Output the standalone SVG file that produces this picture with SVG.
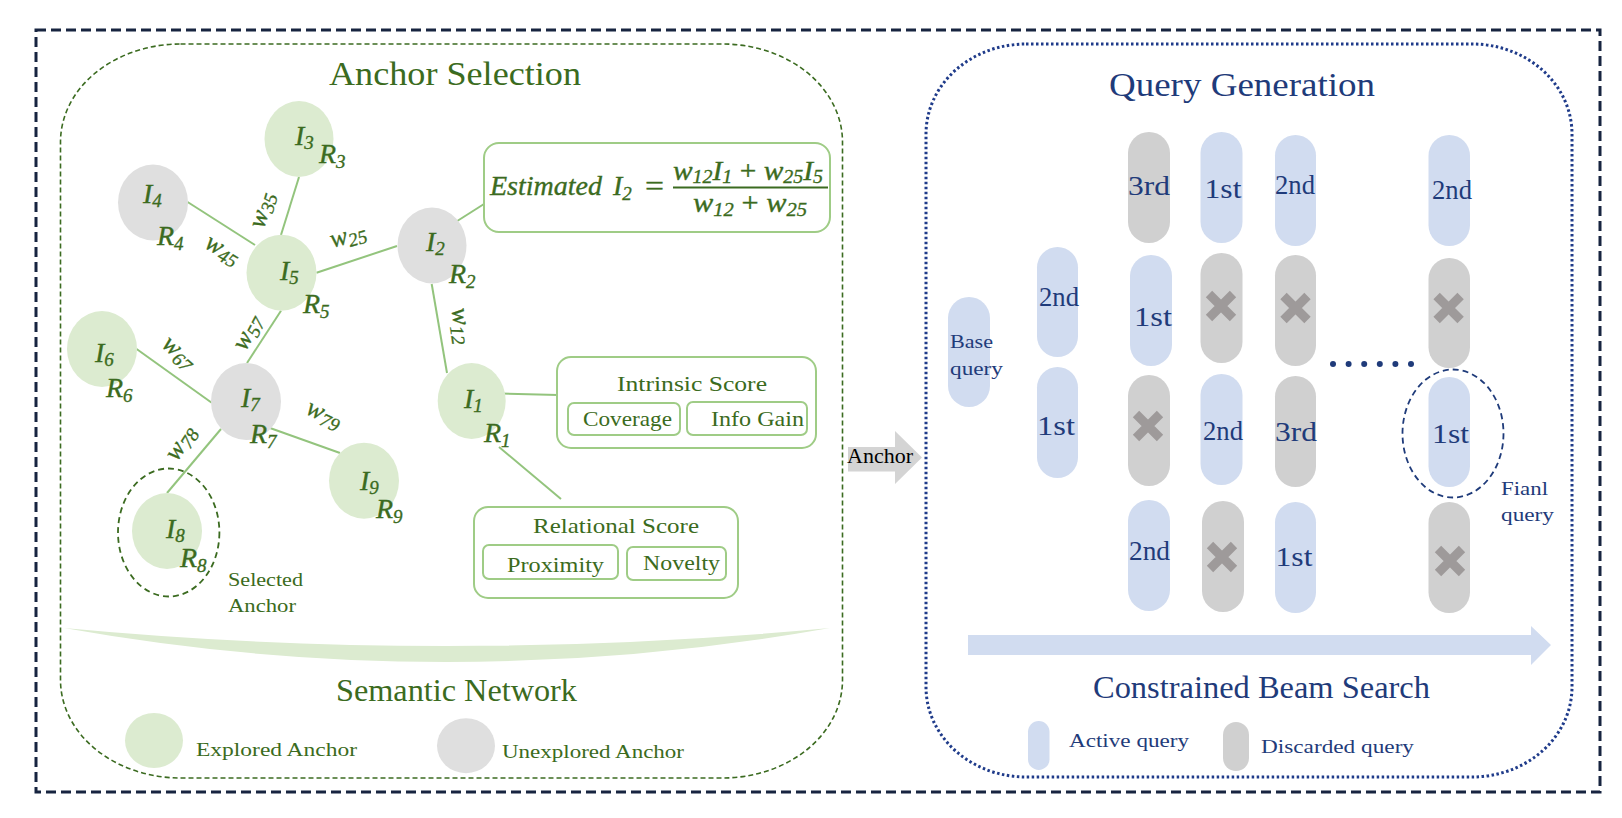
<svg xmlns="http://www.w3.org/2000/svg" width="1622" height="818" viewBox="0 0 1622 818">
<defs>
<style>
.serif{font-family:"Liberation Serif","Times New Roman",serif}
.g{fill:#3b6b20}
.nv{fill:#1f3b7a}
.m{font-family:"Liberation Serif","Times New Roman",serif;font-style:italic;font-size:28px;fill:#3b6b20;stroke:#3b6b20;stroke-width:0.35}
.ms{font-size:19px}
.w{font-family:"Liberation Serif","Times New Roman",serif;font-style:italic;font-size:26px;fill:#3b6b20;stroke:#3b6b20;stroke-width:0.3}
.en{fill:#dcebd0}
.un{fill:#dfdfdf}
.edge{stroke:#93c47d;stroke-width:2;fill:none}
.box{fill:#fff;stroke:#9fcc86;stroke-width:2}
.lab{font-family:"Liberation Serif","Times New Roman",serif;font-size:22px;fill:#3b6b20}
.act{fill:#d1dcf0}
.dis{fill:#d0d0d0}
.pt{font-family:"Liberation Serif","Times New Roman",serif;font-size:27px;fill:#1f3b7a;text-anchor:middle}
.xm{stroke:#9e9a9a;stroke-width:9;fill:none}
.f{font-family:"Liberation Serif","Times New Roman",serif;font-style:italic;font-size:28px;fill:#3b6b20;stroke:#3b6b20;stroke-width:0.35}
</style>
<g id="xmark"><path class="xm" d="M-12,-12 L12,12 M12,-12 L-12,12"/></g>
</defs>
<rect width="1622" height="818" fill="#fff"/>
<!-- outer frame -->
<rect x="36" y="30" width="1564" height="762" fill="none" stroke="#172440" stroke-width="3" stroke-dasharray="10 5"/>
<!-- panels -->
<rect x="60.5" y="44" width="782" height="734" rx="120" ry="98" fill="none" stroke="#3b6b20" stroke-width="1.6" stroke-dasharray="5 3"/>
<rect x="926" y="44" width="646" height="733" rx="100" ry="90" fill="none" stroke="#1f3b8a" stroke-width="3" stroke-dasharray="2.5 2.5"/>

<text class="serif g" x="329" y="85" font-size="33" textLength="252" lengthAdjust="spacingAndGlyphs">Anchor Selection</text>
<text class="serif nv" x="1109" y="96" font-size="33" textLength="266" lengthAdjust="spacingAndGlyphs">Query Generation</text>

<!-- semantic network base -->
<path d="M64,628 Q446,664 830,628 Q446,696 64,628 Z" fill="#dcebd0"/>
<text class="serif g" x="336" y="701" font-size="31" textLength="241" lengthAdjust="spacingAndGlyphs">Semantic Network</text>

<!-- connectors -->
<g id="connectors">
<line class="edge" x1="299" y1="177" x2="281" y2="235"/>
<line class="edge" x1="187.6" y1="202" x2="255" y2="245"/>
<line class="edge" x1="316.5" y1="272.7" x2="397" y2="246"/>
<line class="edge" x1="431.7" y1="284" x2="447" y2="373"/>
<line class="edge" x1="441.5" y1="231" x2="484" y2="204"/>
<line class="edge" x1="281" y1="310.7" x2="247" y2="363"/>
<line class="edge" x1="136.6" y1="349" x2="211.7" y2="402.7"/>
<line class="edge" x1="270" y1="428" x2="340" y2="453"/>
<line class="edge" x1="221" y1="429" x2="167" y2="493"/>
<line class="edge" x1="480" y1="393" x2="558" y2="395"/>
<line class="edge" x1="499" y1="447" x2="561" y2="499"/>
<polygon points="848,447 895,447 895,431 922,457.5 895,484 895,471.5 848,471.5" fill="#d4d4d4"/>
<text class="serif" x="847" y="463" font-size="22" fill="#000" textLength="66" lengthAdjust="spacingAndGlyphs">Anchor</text>
<polygon points="968,635 1531,635 1531,626 1551,645 1531,665 1531,655 968,655" fill="#d1dcf0"/>
</g>

<!-- edge weights -->
<g id="weights">
<text class="w" text-anchor="middle" transform="translate(269,212) rotate(-73)">w<tspan class="ms" dy="4">35</tspan></text>
<text class="w" text-anchor="middle" transform="translate(219,256) rotate(30)">w<tspan class="ms" dy="4">45</tspan></text>
<text class="w" text-anchor="middle" transform="translate(350,243) rotate(-16)">w<tspan class="ms" dy="4">25</tspan></text>
<text class="w" text-anchor="middle" transform="translate(454,327) rotate(82)">w<tspan class="ms" dy="4">12</tspan></text>
<text class="w" text-anchor="middle" transform="translate(174,358) rotate(42)">w<tspan class="ms" dy="4">67</tspan></text>
<text class="w" text-anchor="middle" transform="translate(254,336) rotate(-62)">w<tspan class="ms" dy="4">57</tspan></text>
<text class="w" text-anchor="middle" transform="translate(321,421) rotate(25)">w<tspan class="ms" dy="4">79</tspan></text>
<text class="w" text-anchor="middle" transform="translate(187,447) rotate(-57)">w<tspan class="ms" dy="4">78</tspan></text>
</g>

<!-- nodes -->
<g id="node-I3"><ellipse class="en" cx="299" cy="139" rx="34.5" ry="38"/>
<text class="m" x="295" y="145">I<tspan class="ms" dy="4">3</tspan></text>
<text class="m" x="319" y="163">R<tspan class="ms" dy="5">3</tspan></text></g>
<g id="node-I4"><ellipse class="un" cx="153" cy="202.5" rx="35" ry="38"/>
<text class="m" x="143" y="203">I<tspan class="ms" dy="4">4</tspan></text>
<text class="m" x="157" y="245">R<tspan class="ms" dy="5">4</tspan></text></g>
<g id="node-I5"><ellipse class="en" cx="281.5" cy="272.7" rx="35" ry="38"/>
<text class="m" x="280" y="280">I<tspan class="ms" dy="4">5</tspan></text>
<text class="m" x="303" y="313">R<tspan class="ms" dy="5">5</tspan></text></g>
<g id="node-I2"><ellipse class="un" cx="432" cy="245.5" rx="34.5" ry="38"/>
<text class="m" x="426" y="251">I<tspan class="ms" dy="4">2</tspan></text>
<text class="m" x="449" y="283">R<tspan class="ms" dy="5">2</tspan></text></g>
<g id="node-I6"><ellipse class="en" cx="102" cy="349" rx="35" ry="38"/>
<text class="m" x="95" y="362">I<tspan class="ms" dy="4">6</tspan></text>
<text class="m" x="106" y="397">R<tspan class="ms" dy="5">6</tspan></text></g>
<g id="node-I7"><ellipse class="un" cx="246" cy="401.5" rx="35" ry="38.5"/>
<text class="m" x="241" y="407">I<tspan class="ms" dy="4">7</tspan></text>
<text class="m" x="250" y="443">R<tspan class="ms" dy="5">7</tspan></text></g>
<g id="node-I1"><ellipse class="en" cx="471.7" cy="401" rx="34" ry="38"/>
<text class="m" x="464" y="408">I<tspan class="ms" dy="4">1</tspan></text>
<text class="m" x="484" y="442">R<tspan class="ms" dy="5">1</tspan></text></g>
<g id="node-I9"><ellipse class="en" cx="364" cy="480.7" rx="35" ry="38"/>
<text class="m" x="360" y="490">I<tspan class="ms" dy="4">9</tspan></text>
<text class="m" x="376" y="518">R<tspan class="ms" dy="5">9</tspan></text></g>
<g id="node-I8"><ellipse class="en" cx="167" cy="531" rx="35" ry="38"/>
<text class="m" x="166" y="538">I<tspan class="ms" dy="4">8</tspan></text>
<text class="m" x="180" y="567">R<tspan class="ms" dy="5">8</tspan></text>
<ellipse cx="168.7" cy="532.5" rx="50.7" ry="64" fill="none" stroke="#3b6b20" stroke-width="1.8" stroke-dasharray="6 4"/>
<text class="serif g" x="228" y="586" font-size="19" textLength="75" lengthAdjust="spacingAndGlyphs">Selected</text>
<text class="serif g" x="228" y="612" font-size="19" textLength="68" lengthAdjust="spacingAndGlyphs">Anchor</text></g>

<!-- formula box -->
<g id="formula">
<rect class="box" x="484" y="143" width="346" height="89" rx="15"/>
<text class="f" x="490" y="195" textLength="112" lengthAdjust="spacingAndGlyphs">Estimated</text>
<text class="f" x="613" y="195">I<tspan class="ms" dy="5">2</tspan></text>
<text class="f" style="font-style:normal" x="645" y="195" textLength="19" lengthAdjust="spacingAndGlyphs">=</text>
<text class="f" x="673" y="180" textLength="150" lengthAdjust="spacingAndGlyphs">w<tspan class="ms" dy="3">12</tspan><tspan dy="-3">I</tspan><tspan class="ms" dy="3">1</tspan><tspan dy="-3" style="font-style:normal"> + </tspan>w<tspan class="ms" dy="3">25</tspan><tspan dy="-3">I</tspan><tspan class="ms" dy="3">5</tspan></text>
<line x1="673" y1="187.5" x2="828" y2="187.5" stroke="#3b6b20" stroke-width="2.2"/>
<text class="f" x="693" y="212" textLength="114" lengthAdjust="spacingAndGlyphs">w<tspan class="ms" dy="4">12</tspan><tspan dy="-4" style="font-style:normal"> + </tspan>w<tspan class="ms" dy="4">25</tspan></text>
</g>

<!-- intrinsic score -->
<g id="intrinsic">
<rect class="box" x="557" y="357" width="259" height="91" rx="14"/>
<text class="lab" x="617" y="391" textLength="150" lengthAdjust="spacingAndGlyphs">Intrinsic Score</text>
<rect class="box" x="568" y="403" width="112" height="32" rx="6"/>
<rect class="box" x="687" y="402" width="120" height="33" rx="6"/>
<text class="lab" x="583" y="426" textLength="89" lengthAdjust="spacingAndGlyphs">Coverage</text>
<text class="lab" x="711" y="426" textLength="93" lengthAdjust="spacingAndGlyphs">Info Gain</text>
</g>

<!-- relational score -->
<g id="relational">
<rect class="box" x="474" y="507" width="264" height="91" rx="14"/>
<text class="lab" x="533" y="533" textLength="166" lengthAdjust="spacingAndGlyphs">Relational Score</text>
<rect class="box" x="483" y="545" width="135" height="34" rx="6"/>
<rect class="box" x="627" y="547" width="99" height="33" rx="6"/>
<text class="lab" x="507" y="572" textLength="97" lengthAdjust="spacingAndGlyphs">Proximity</text>
<text class="lab" x="643" y="570" textLength="77" lengthAdjust="spacingAndGlyphs">Novelty</text>
</g>

<!-- legend left -->
<g id="legend-explored"><ellipse class="en" cx="154" cy="740.5" rx="29" ry="27.5"/>
<text class="serif g" x="196" y="756" font-size="19" textLength="161" lengthAdjust="spacingAndGlyphs">Explored Anchor</text></g>
<g id="legend-unexplored"><ellipse class="un" cx="466" cy="745.7" rx="29" ry="27.5"/>
<text class="serif g" x="502" y="758" font-size="19" textLength="182" lengthAdjust="spacingAndGlyphs">Unexplored Anchor</text></g>

<!-- query generation -->
<g id="base-query"><rect class="act" x="948" y="297" width="42" height="110" rx="21"/>
<text class="serif nv" x="950" y="348" font-size="18" textLength="43" lengthAdjust="spacingAndGlyphs">Base</text>
<text class="serif nv" x="950" y="375" font-size="18" textLength="53" lengthAdjust="spacingAndGlyphs">query</text></g>

<g id="col2">
<rect class="act" x="1037" y="247" width="41" height="110" rx="20.5"/>
<text class="pt" x="1059" y="306" textLength="40" lengthAdjust="spacingAndGlyphs">2nd</text>
<rect class="act" x="1037" y="367" width="41" height="111" rx="20.5"/>
<text class="pt" x="1056" y="435" textLength="38" lengthAdjust="spacingAndGlyphs">1st</text>
</g>

<g id="col3">
<rect class="dis" x="1128" y="132" width="42" height="111" rx="21"/>
<text class="pt" x="1149" y="195" textLength="42" lengthAdjust="spacingAndGlyphs">3rd</text>
<rect class="act" x="1130" y="255" width="42" height="111" rx="21"/>
<text class="pt" x="1153" y="326" textLength="38" lengthAdjust="spacingAndGlyphs">1st</text>
<rect class="dis" x="1128" y="375" width="42" height="111" rx="21"/>
<use href="#xmark" x="1148" y="426"/>
<rect class="act" x="1128" y="500" width="42" height="111" rx="21"/>
<text class="pt" x="1149.5" y="560" textLength="41" lengthAdjust="spacingAndGlyphs">2nd</text>
</g>

<g id="col4">
<rect class="act" x="1200.5" y="132" width="42" height="111" rx="21"/>
<text class="pt" x="1223" y="198" textLength="37" lengthAdjust="spacingAndGlyphs">1st</text>
<rect class="dis" x="1200.5" y="253" width="42" height="110" rx="21"/>
<use href="#xmark" x="1221" y="306"/>
<rect class="act" x="1200.5" y="374" width="42" height="111" rx="21"/>
<text class="pt" x="1223" y="440" textLength="40" lengthAdjust="spacingAndGlyphs">2nd</text>
<rect class="dis" x="1202" y="501" width="42" height="111" rx="21"/>
<use href="#xmark" x="1222" y="557"/>
</g>

<g id="col5">
<rect class="act" x="1275" y="135" width="41" height="111" rx="20.5"/>
<text class="pt" x="1295" y="194" textLength="40" lengthAdjust="spacingAndGlyphs">2nd</text>
<rect class="dis" x="1275" y="255" width="41" height="111" rx="20.5"/>
<use href="#xmark" x="1295.5" y="308"/>
<rect class="dis" x="1275" y="376" width="41" height="111" rx="20.5"/>
<text class="pt" x="1296" y="441" textLength="42" lengthAdjust="spacingAndGlyphs">3rd</text>
<rect class="act" x="1275" y="502" width="41" height="111" rx="20.5"/>
<text class="pt" x="1294" y="566" textLength="37" lengthAdjust="spacingAndGlyphs">1st</text>
</g>

<g id="dots" fill="#1f3b7a">
<circle cx="1333" cy="364" r="3"/><circle cx="1348.6" cy="364" r="3"/><circle cx="1364.2" cy="364" r="3"/>
<circle cx="1379.8" cy="364" r="3"/><circle cx="1395.4" cy="364" r="3"/><circle cx="1411" cy="364" r="3"/>
</g>

<g id="col6">
<rect class="act" x="1428.5" y="135" width="41.5" height="111" rx="20.7"/>
<text class="pt" x="1452" y="199" textLength="40" lengthAdjust="spacingAndGlyphs">2nd</text>
<rect class="dis" x="1428.5" y="258" width="41.5" height="110" rx="20.7"/>
<use href="#xmark" x="1448.6" y="308"/>
<rect class="act" x="1428.5" y="377" width="41.5" height="110" rx="20.7"/>
<text class="pt" x="1450.6" y="443" textLength="37" lengthAdjust="spacingAndGlyphs">1st</text>
<rect class="dis" x="1428.5" y="502" width="41.5" height="111" rx="20.7"/>
<use href="#xmark" x="1450" y="561"/>
</g>

<g id="final-query">
<ellipse cx="1453" cy="433.5" rx="50.5" ry="64" fill="none" stroke="#1f3b7a" stroke-width="1.8" stroke-dasharray="6 4"/>
<text class="serif nv" x="1501" y="495" font-size="18" textLength="47" lengthAdjust="spacingAndGlyphs">Fianl</text>
<text class="serif nv" x="1501" y="521" font-size="18" textLength="53" lengthAdjust="spacingAndGlyphs">query</text>
</g>

<text class="serif nv" x="1093" y="698" font-size="31" textLength="337" lengthAdjust="spacingAndGlyphs">Constrained Beam Search</text>

<g id="legend-active"><rect class="act" x="1028" y="721" width="21.5" height="49" rx="10.7"/>
<text class="serif nv" x="1069" y="747" font-size="19" textLength="120" lengthAdjust="spacingAndGlyphs">Active query</text></g>
<g id="legend-discarded"><rect class="dis" x="1223" y="722" width="26" height="49" rx="13"/>
<text class="serif nv" x="1261" y="753" font-size="19" textLength="153" lengthAdjust="spacingAndGlyphs">Discarded query</text></g>
</svg>
